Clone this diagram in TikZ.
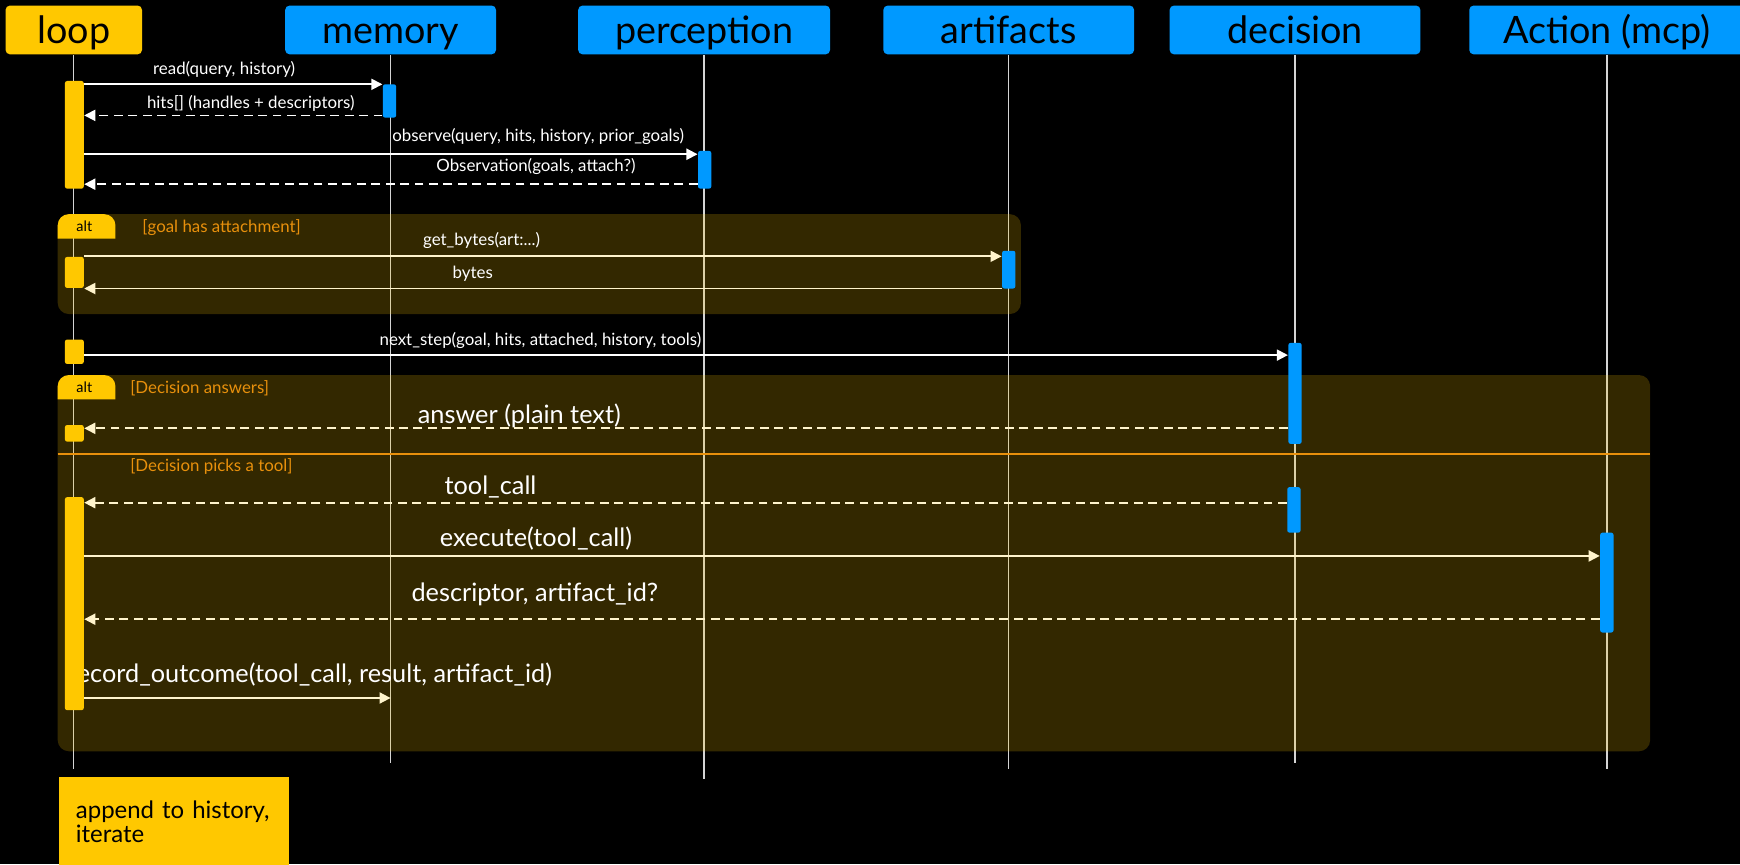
\documentclass[tikz,border=0pt]{standalone}
\usepackage{fontspec}
\setmainfont{Lato}
\usetikzlibrary{arrows.meta}
\definecolor{hdryellow}{HTML}{FFC800}
\definecolor{hdrblue}{HTML}{0099FF}
\definecolor{altorange}{HTML}{E8900C}
\definecolor{lifegray}{HTML}{D4D4D4}
\pgfdeclarelayer{back}
\pgfdeclarelayer{shade}
\pgfsetlayers{back,shade,main}

\begin{document}
\begin{tikzpicture}[x=0.5pt,y=-0.5pt,
	actor/.style={rounded corners=2pt,minimum height=22pt,inner sep=0,text height=14pt,text depth=2pt,font=\fontsize{17}{20}\selectfont,text=black},
	bar/.style={rounded corners=1pt,inner sep=0,minimum width=6pt},
	life/.style={lifegray,line width=0.6pt},
	msg/.style={white,line width=0.8pt,-{Triangle[length=5pt,width=5pt]}},
	reply/.style={msg,dash pattern=on 4pt off 2.5pt},
	small/.style={text=white,inner sep=0,font=\fontsize{7.6}{9}\selectfont},
	big/.style={text=white,inner sep=0,font=\fontsize{11.4}{13}\selectfont},
	cond/.style={text=altorange,inner sep=0,anchor=west,font=\fontsize{7.6}{9}\selectfont},
	alttab/.style={text=black,inner sep=0,font=\fontsize{6.5}{8}\selectfont},
	frame/.style={fill=hdryellow,fill opacity=0.2,rounded corners=5pt}]
	\useasboundingbox (0,0) rectangle (1568,779);
	\begin{pgfonlayer}{back}
		\fill[black] (0,0) rectangle (1568,779);
	\end{pgfonlayer}
	\node[actor,fill=hdryellow,minimum width=61.5pt] (loop) at (66.5,27) {loop};
	\node[actor,fill=hdrblue,minimum width=95pt] (memory) at (352,27) {memory};
	\node[actor,fill=hdrblue,minimum width=113.5pt] (perception) at (634.5,27) {perception};
	\node[actor,fill=hdrblue,minimum width=113pt] (artifacts) at (909,27) {artifacts};
	\node[actor,fill=hdrblue,minimum width=113pt] (decision) at (1167,27) {decision};
	\node[actor,fill=hdrblue,minimum width=124pt] (action) at (1448,27) {Action (mcp)};
	\coordinate (loopend) at (66.5,693);
	\coordinate (memend) at (352,688);
	\coordinate (perend) at (634.5,702);
	\coordinate (artend) at (909,693);
	\coordinate (decend) at (1167,688);
	\coordinate (actend) at (1448,693);
	\begin{pgfonlayer}{back}
		\draw[life] (loop) -- (loopend);
		\draw[life] (memory) -- (memend);
		\draw[life] (perception) -- (perend);
		\draw[life] (artifacts) -- (artend);
		\draw[life] (decision) -- (decend);
		\draw[life] (action) -- (actend);
	\end{pgfonlayer}
	\node[small] (t1) at (202,63) {read(query, history)};
	\node[small] (t2) at (226,93) {hits[] (handles + descriptors)};
	\node[small] (t3) at (485,123) {observe(query, hits, history, prior\_goals)};
	\node[small] (t4) at (483,150) {Observation(goals, attach?)};
	\node[small] (t5) at (434,217) {get\_bytes(art:...)};
	\node[small] (t6) at (426,247) {bytes};
	\node[small] (t7) at (487,307) {next\_step(goal, hits, attached, history, tools)};
	\node[big] (t8) at (468,375) {answer (plain text)};
	\node[big] (t9) at (442,439) {tool\_call};
	\node[big] (t10) at (483,485) {execute(tool\_call)};
	\node[big] (t11) at (482,536) {descriptor, artifact\_id?};
	\node[big,anchor=west] (t12) at (61,608) {record\_outcome(tool\_call, result, artifact\_id)};
	\node[bar,fill=hdryellow,minimum width=8.5pt,minimum height=48.5pt] (lb1) at (67,121.5) {};
	\node[bar,fill=hdrblue,minimum height=15pt] (mb1) at (351,91) {};
	\node[bar,fill=hdrblue,minimum height=17pt] (pb1) at (635,153) {};
	\node[bar,fill=hdrblue,minimum height=17pt] (ab1) at (909,243) {};
	\node[bar,fill=hdryellow,minimum width=8.5pt,minimum height=14pt] (lb2) at (67,245.5) {};
	\node[bar,fill=hdryellow,minimum width=8.5pt,minimum height=11pt] (lb3) at (67,317) {};
	\node[bar,fill=hdrblue,minimum height=45.5pt] (db1) at (1167,354.5) {};
	\node[bar,fill=hdryellow,minimum width=8.5pt,minimum height=7.5pt] (lb4) at (67,390.5) {};
	\node[bar,fill=hdrblue,minimum height=20.5pt] (db2) at (1166,459.5) {};
	\node[bar,fill=hdrblue,minimum height=45pt] (xb1) at (1448,525) {};
	\node[bar,fill=hdryellow,minimum width=8.5pt,minimum height=96pt] (lb5) at (67,544) {};
	\coordinate (m1) at (0,76);
	\coordinate (m2) at (0,104);
	\coordinate (m3) at (0,139);
	\coordinate (m4) at (0,166);
	\coordinate (m5) at (0,231);
	\coordinate (m6) at (0,260);
	\coordinate (m7) at (0,320);
	\coordinate (m8) at (0,386);
	\coordinate (m9) at (0,453);
	\coordinate (m10) at (0,501);
	\coordinate (m11) at (0,558);
	\coordinate (m12) at (0,629);
	\begin{pgfonlayer}{back}
		\draw[msg] (lb1.east |- m1) -- (mb1.west |- m1);
		\draw[reply] (mb1.west |- m2) -- (lb1.east |- m2);
		\draw[msg] (lb1.east |- m3) -- (pb1.west |- m3);
		\draw[reply] (pb1.west |- m4) -- (lb1.east |- m4);
		\draw[msg] (lb2.east |- m5) -- (ab1.west |- m5);
		\draw[msg] (ab1.west |- m6) -- (lb2.east |- m6);
		\draw[msg] (lb3.east |- m7) -- (db1.west |- m7);
		\draw[reply] (db1.west |- m8) -- (lb4.east |- m8);
		\draw[reply] (db2.west |- m9) -- (lb5.east |- m9);
		\draw[msg] (lb5.east |- m10) -- (xb1.west |- m10);
		\draw[reply] (xb1.west |- m11) -- (lb5.east |- m11);
		\draw[msg] (lb5.east |- m12) -- (memend |- m12);
	\end{pgfonlayer}
	\begin{pgfonlayer}{shade}
		\fill[frame] (52,193) rectangle (920,283);
		\fill[frame] (52,338) rectangle (1487,677);
	\end{pgfonlayer}
	\fill[hdryellow] (52,215) [rounded corners=5pt] -- (52,193) -- (104,193) [sharp corners] -- (104,215) -- cycle;
	\fill[hdryellow] (52,360) [rounded corners=5pt] -- (52,338) -- (104,338) [sharp corners] -- (104,360) -- cycle;
	\draw[altorange,line width=0.8pt] (52,409) -- (1487,409);
	\node[alttab] (alt1) at (76,204) {alt};
	\node[alttab] (alt2) at (76,349) {alt};
	\node[cond] (c1) at (128,205) {[goal has attachment]};
	\node[cond] (c2) at (117,350) {[Decision answers]};
	\node[cond] (c3) at (117,420) {[Decision picks a tool]};
	\node[fill=hdryellow,anchor=north west,minimum width=103.5pt,minimum height=40pt,text width=88.5pt,inner xsep=7.5pt,inner ysep=0,align=left,font=\fontsize{10.8}{11}\selectfont] (note) at (53,700) {append to history,\\iterate};
\end{tikzpicture}
\end{document}
